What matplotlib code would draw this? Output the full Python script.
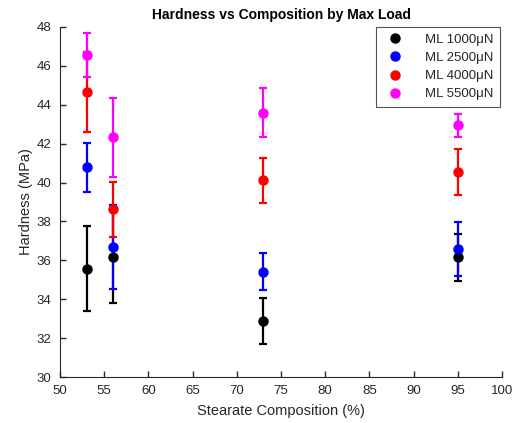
import matplotlib
matplotlib.use('Agg')
import matplotlib.pyplot as plt
import numpy as np

plt.rcParams['font.family'] = ['Liberation Sans', 'DejaVu Sans']

# Stearate composition (%)
composition = [53, 56, 73, 95]

labels = ['ML 1000\u03bcN', 'ML 2500\u03bcN', 'ML 4000\u03bcN', 'ML 5500\u03bcN']
colors = ['#000000', '#0000ff', '#ff0000', '#ff00ff']

# Hardness (MPa) and error half-widths, one list per max load
h_1000 = [35.57, 36.16, 32.90, 36.16]
e_1000 = [2.17, 2.36, 1.18, 1.21]
h_2500 = [40.80, 36.68, 35.42, 36.58]
e_2500 = [1.26, 2.15, 0.94, 1.37]
h_4000 = [44.65, 38.62, 40.12, 40.55]
e_4000 = [2.05, 1.40, 1.16, 1.18]
h_5500 = [46.55, 42.33, 43.60, 42.95]
e_5500 = [1.12, 2.02, 1.25, 0.60]

series = [(h_1000, e_1000), (h_2500, e_2500), (h_4000, e_4000), (h_5500, e_5500)]

fig = plt.figure(figsize=(5.2, 4.23), dpi=100)
ax = fig.add_axes([60 / 520, 46 / 423, 442 / 520, 350 / 423])

for (h, e), c, lab in zip(series, colors, labels):
    ax.errorbar(composition, h, yerr=e, fmt='o', color=c, ecolor=c,
                markersize=6.5, elinewidth=1.6, capsize=3.2, capthick=1.6,
                label=lab)

ax.set_xlim(50, 100)
ax.set_ylim(30, 48)
ax.set_xticks(np.arange(50, 101, 5))
ax.set_yticks(np.arange(30, 49, 2))
ax.tick_params(direction='in', length=4, width=1, labelsize=9.5,
               colors='#262626', pad=6)
ax.spines['top'].set_visible(False)
ax.spines['right'].set_visible(False)
ax.spines['left'].set_color('#262626')
ax.spines['bottom'].set_color('#262626')

ax.set_xlabel('Stearate Composition (%)', fontsize=10.5, color='#262626',
              labelpad=5)
ax.set_ylabel('Hardness (MPa)', fontsize=10.5, color='#262626', labelpad=3)
ax.set_title('Hardness vs Composition by Max Load', fontsize=10,
             fontweight='bold', pad=6)

handles, labs = ax.get_legend_handles_labels()
handles = [h[0] for h in handles]
leg = ax.legend(handles, labs, loc='upper right', fontsize=9.5, frameon=True,
                fancybox=False, edgecolor='#262626', handletextpad=1.4,
                handlelength=1.8, borderpad=0.5, labelspacing=0.45,
                borderaxespad=0, bbox_to_anchor=(0.996, 1.0))
leg.get_frame().set_linewidth(0.8)
for t in leg.get_texts():
    t.set_color('#262626')

fig.savefig('out.png', dpi=100)
